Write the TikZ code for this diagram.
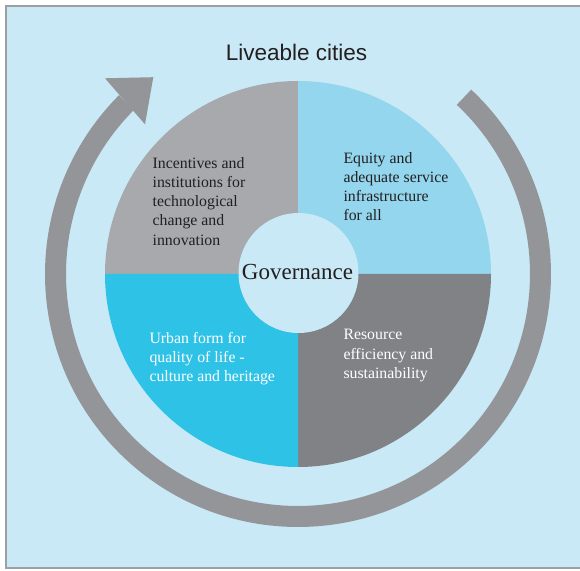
\documentclass[tikz,border=0pt]{standalone}
\usepackage{fontspec}
\setmainfont{Liberation Serif}
\newfontfamily\titlefont{Liberation Sans}
\definecolor{bgblue}{HTML}{C9E9F6}
\definecolor{framegray}{HTML}{9D9FA2}
\definecolor{ringgray}{HTML}{939598}
\definecolor{tlgray}{HTML}{A7A9AC}
\definecolor{trblue}{HTML}{93D6EE}
\definecolor{brgray}{HTML}{808285}
\definecolor{blcyan}{HTML}{2EC3E6}
\definecolor{textdark}{HTML}{231F20}
\tikzset{
  qtext/.style={font=\fontsize{15.8}{19.2}\selectfont, align=left, inner sep=0pt, text=textdark},
  qwhite/.style={qtext, text=white},
}
\begin{document}
\begin{tikzpicture}[x=1pt,y=1pt]
\useasboundingbox (0,0) rectangle (580,570);
\fill[white] (0,0) rectangle (580,570);
\draw[framegray, line width=2pt, fill=bgblue] (5.5,1.8) rectangle (600,564.3);
\coordinate (c) at (298,296);
% quadrants
\fill[tlgray] (c) -- +(90:193) arc[start angle=90, end angle=180, radius=193] -- cycle;
\fill[trblue] (c) -- +(0:193) arc[start angle=0, end angle=90, radius=193] -- cycle;
\fill[brgray] (c) -- +(-90:193) arc[start angle=-90, end angle=0, radius=193] -- cycle;
\fill[blcyan] (c) -- +(180:193) arc[start angle=180, end angle=270, radius=193] -- cycle;
% centre
\node[circle, fill=bgblue, minimum size=120pt, inner sep=0pt] (gov) at (298.5,297) {};
\node[font=\fontsize{23}{23}\selectfont, text=textdark, anchor=base, inner sep=0pt] (govtext) at (297.5,290.5) {Governance};
% ring arrow
\draw[ringgray, line width=21pt] (c) ++(46.8:242.5) arc[start angle=46.8, end angle=-225, radius=242.5];
\coordinate (h1) at (105,491.7);
\coordinate (h2) at (145,445.7);
\coordinate (tip) at (153.3,492.8);
\fill[ringgray] (h1) -- (tip) -- (h2) -- cycle;
% title
\node[font=\titlefont\fontsize{22.5}{22.5}\selectfont, text=textdark, anchor=base, inner sep=0pt] (title) at (296.5,509.3) {Liveable cities};
% quadrant texts (base anchor = baseline of last line)
\node[qtext, anchor=base west] (tl) at (152.5,324.9) {Incentives and\\institutions for\\technological\\change and\\innovation};
\node[qtext, anchor=base west] (tr) at (343.3,349.1) {Equity and\\adequate service\\infrastructure\\for all};
\node[qwhite, anchor=base west] (bl) at (149.3,188.3) {Urban form for\\quality of life -\\culture and heritage};
\node[qwhite, anchor=base west] (br) at (343.3,191.6) {Resource\\efficiency and\\sustainability};
\end{tikzpicture}
\end{document}
